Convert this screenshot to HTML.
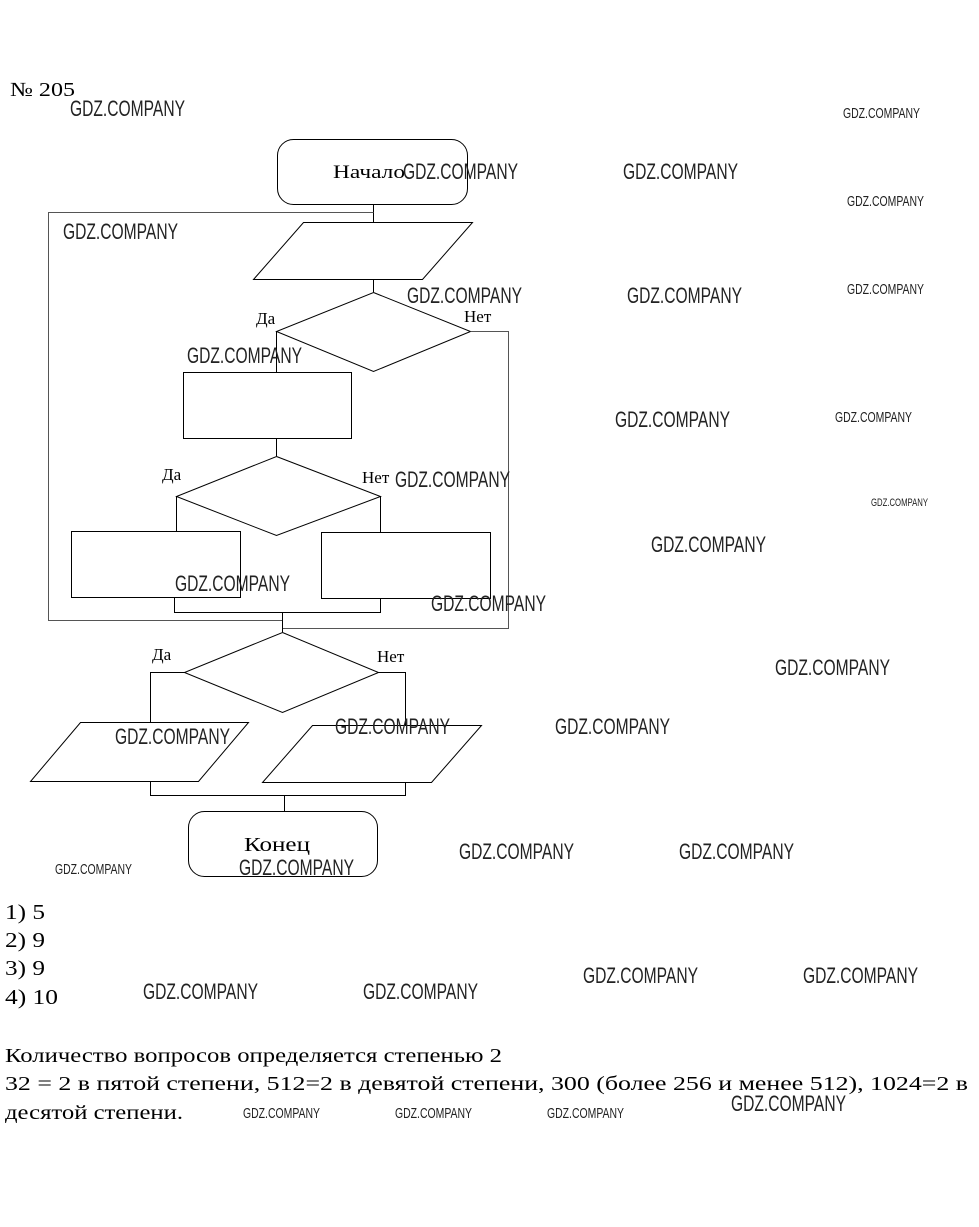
<!DOCTYPE html>
<html><head><meta charset="utf-8"><style>
html,body{margin:0;padding:0;background:#fff;}
svg{display:block;}
.s{font-family:"Liberation Serif","Noto Serif CJK SC",serif;fill:#000;}
.w{font-family:"Liberation Sans",sans-serif;fill:#222;}
</style></head><body>
<svg width="979" height="1227" viewBox="0 0 979 1227" xmlns="http://www.w3.org/2000/svg">
<g fill="none" stroke="#000" stroke-width="1">
<rect x="277.5" y="139.5" width="190" height="65" rx="16"/>
<line x1="373.5" y1="204" x2="373.5" y2="222"/>
<polyline points="373.5,212.5 48.5,212.5 48.5,620.5 283,620.5" stroke="#555"/>
<polygon points="303.5,222.5 472.5,222.5 422.5,279.5 253.5,279.5"/>
<line x1="373.5" y1="279" x2="373.5" y2="292"/>
<polygon points="373.5,292.5 470.5,331.5 373.5,371.5 276.5,331.5"/>
<polyline points="470.5,331.5 508.5,331.5 508.5,628.5 283,628.5" stroke="#555"/>
<line x1="276.5" y1="331" x2="276.5" y2="372"/>
<rect x="183.5" y="372.5" width="168" height="66"/>
<line x1="276.5" y1="438" x2="276.5" y2="456"/>
<polygon points="276.5,456.5 380.5,496.5 276.5,535.5 176.5,496.5"/>
<line x1="176.5" y1="496" x2="176.5" y2="531"/>
<line x1="380.5" y1="496" x2="380.5" y2="532"/>
<rect x="71.5" y="531.5" width="169" height="66"/>
<rect x="321.5" y="532.5" width="169" height="66"/>
<polyline points="174.5,597 174.5,612.5 380.5,612.5 380.5,598"/>
<line x1="282.5" y1="612" x2="282.5" y2="632"/>
<polygon points="282.5,632.5 378.5,672.5 282.5,712.5 184.5,672.5"/>
<polyline points="184.5,672.5 150.5,672.5 150.5,722"/>
<polyline points="378.5,672.5 405.5,672.5 405.5,725"/>
<polygon points="80.5,722.5 248.5,722.5 198.5,781.5 30.5,781.5"/>
<polygon points="312.5,725.5 481.5,725.5 431.5,782.5 262.5,782.5"/>
<polyline points="150.5,781 150.5,795.5 405.5,795.5 405.5,782"/>
<line x1="284.5" y1="795" x2="284.5" y2="811"/>
<rect x="188.5" y="811.5" width="189" height="65" rx="16"/>
</g>
<g class="s">
<text x="10" y="96" font-size="20" textLength="65" lengthAdjust="spacingAndGlyphs">№ 205</text>
<text x="333" y="178" font-size="19" textLength="72" lengthAdjust="spacingAndGlyphs">Начало</text>
<text x="256" y="324" font-size="17">Да</text>
<text x="464" y="322" font-size="17">Нет</text>
<text x="162" y="480" font-size="17">Да</text>
<text x="362" y="483" font-size="17">Нет</text>
<text x="152" y="660" font-size="17">Да</text>
<text x="377" y="662" font-size="17">Нет</text>
<text x="244" y="851" font-size="20" textLength="66" lengthAdjust="spacingAndGlyphs">Конец</text>
<text x="5" y="919" font-size="21" textLength="40" lengthAdjust="spacingAndGlyphs">1) 5</text>
<text x="5" y="947" font-size="21" textLength="40" lengthAdjust="spacingAndGlyphs">2) 9</text>
<text x="5" y="975" font-size="21" textLength="40" lengthAdjust="spacingAndGlyphs">3) 9</text>
<text x="5" y="1004" font-size="21" textLength="53" lengthAdjust="spacingAndGlyphs">4) 10</text>
<text x="5" y="1062" font-size="20" textLength="497" lengthAdjust="spacingAndGlyphs">Количество вопросов определяется степенью 2</text>
<text x="5" y="1090" font-size="20" textLength="963" lengthAdjust="spacingAndGlyphs">32 = 2 в пятой степени, 512=2 в девятой степени, 300 (более 256 и менее 512), 1024=2 в</text>
<text x="5" y="1119" font-size="20" textLength="178" lengthAdjust="spacingAndGlyphs">десятой степени.</text>
</g>
<g class="w" font-size="22">
<text x="70" y="116" textLength="115" lengthAdjust="spacingAndGlyphs">GDZ.COMPANY</text>
<text x="403" y="179" textLength="115" lengthAdjust="spacingAndGlyphs">GDZ.COMPANY</text>
<text x="623" y="179" textLength="115" lengthAdjust="spacingAndGlyphs">GDZ.COMPANY</text>
<text x="63" y="239" textLength="115" lengthAdjust="spacingAndGlyphs">GDZ.COMPANY</text>
<text x="407" y="303" textLength="115" lengthAdjust="spacingAndGlyphs">GDZ.COMPANY</text>
<text x="627" y="303" textLength="115" lengthAdjust="spacingAndGlyphs">GDZ.COMPANY</text>
<text x="187" y="363" textLength="115" lengthAdjust="spacingAndGlyphs">GDZ.COMPANY</text>
<text x="615" y="427" textLength="115" lengthAdjust="spacingAndGlyphs">GDZ.COMPANY</text>
<text x="395" y="487" textLength="115" lengthAdjust="spacingAndGlyphs">GDZ.COMPANY</text>
<text x="651" y="552" textLength="115" lengthAdjust="spacingAndGlyphs">GDZ.COMPANY</text>
<text x="175" y="591" textLength="115" lengthAdjust="spacingAndGlyphs">GDZ.COMPANY</text>
<text x="431" y="611" textLength="115" lengthAdjust="spacingAndGlyphs">GDZ.COMPANY</text>
<text x="775" y="675" textLength="115" lengthAdjust="spacingAndGlyphs">GDZ.COMPANY</text>
<text x="115" y="744" textLength="115" lengthAdjust="spacingAndGlyphs">GDZ.COMPANY</text>
<text x="335" y="734" textLength="115" lengthAdjust="spacingAndGlyphs">GDZ.COMPANY</text>
<text x="555" y="734" textLength="115" lengthAdjust="spacingAndGlyphs">GDZ.COMPANY</text>
<text x="459" y="859" textLength="115" lengthAdjust="spacingAndGlyphs">GDZ.COMPANY</text>
<text x="679" y="859" textLength="115" lengthAdjust="spacingAndGlyphs">GDZ.COMPANY</text>
<text x="239" y="875" textLength="115" lengthAdjust="spacingAndGlyphs">GDZ.COMPANY</text>
<text x="583" y="983" textLength="115" lengthAdjust="spacingAndGlyphs">GDZ.COMPANY</text>
<text x="803" y="983" textLength="115" lengthAdjust="spacingAndGlyphs">GDZ.COMPANY</text>
<text x="143" y="999" textLength="115" lengthAdjust="spacingAndGlyphs">GDZ.COMPANY</text>
<text x="363" y="999" textLength="115" lengthAdjust="spacingAndGlyphs">GDZ.COMPANY</text>
<text x="731" y="1111" textLength="115" lengthAdjust="spacingAndGlyphs">GDZ.COMPANY</text>
</g>
<g class="w" font-size="15">
<text x="843" y="118" textLength="77" lengthAdjust="spacingAndGlyphs">GDZ.COMPANY</text>
<text x="847" y="206" textLength="77" lengthAdjust="spacingAndGlyphs">GDZ.COMPANY</text>
<text x="847" y="294" textLength="77" lengthAdjust="spacingAndGlyphs">GDZ.COMPANY</text>
<text x="835" y="422" textLength="77" lengthAdjust="spacingAndGlyphs">GDZ.COMPANY</text>
<text x="55" y="874" textLength="77" lengthAdjust="spacingAndGlyphs">GDZ.COMPANY</text>
<text x="243" y="1118" textLength="77" lengthAdjust="spacingAndGlyphs">GDZ.COMPANY</text>
<text x="395" y="1118" textLength="77" lengthAdjust="spacingAndGlyphs">GDZ.COMPANY</text>
<text x="547" y="1118" textLength="77" lengthAdjust="spacingAndGlyphs">GDZ.COMPANY</text>
<text x="871" y="506" font-size="11" textLength="57" lengthAdjust="spacingAndGlyphs">GDZ.COMPANY</text>
</g>
</svg>
</body></html>
